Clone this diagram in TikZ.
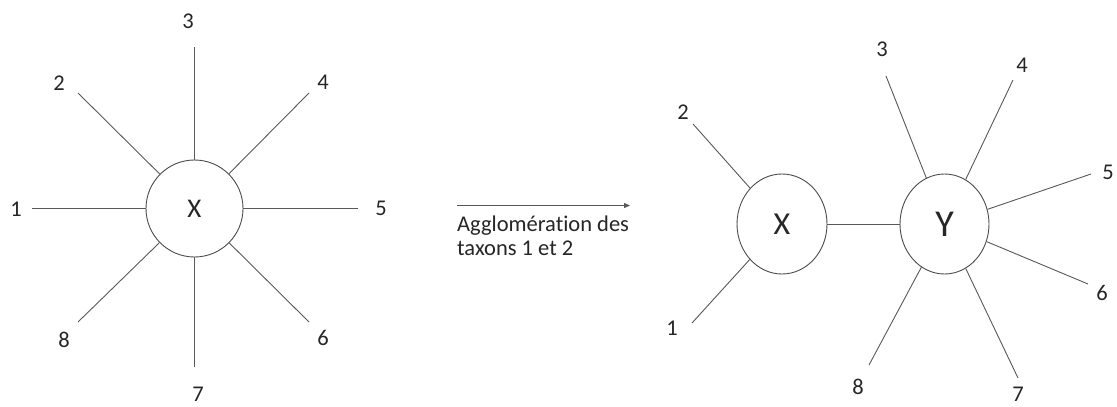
\documentclass[tikz,border=0pt]{standalone}
\usepackage{fontspec}
\setmainfont{Carlito}[Ligatures={NoCommon}]
\usetikzlibrary{shapes.geometric,arrows.meta}
\begin{document}
\begin{tikzpicture}[x=1pt,y=-1pt,
  edge/.style={draw=black!65,line width=0.9pt},
  lab/.style={font=\fontsize{22.5}{24}\selectfont,text=black!85,inner sep=0pt},
  hub/.style={ellipse,draw=black!70,line width=0.9pt,inner sep=0pt,text=black!85}]
\useasboundingbox[fill=white] (0,0) rectangle (1117,407);
% left star
\node[hub,minimum width=97pt,minimum height=97pt,font=\fontsize{27}{31}\selectfont] (LX) at (194.5,208.5) {X};
\coordinate (a1) at (32,208.5);
\coordinate (a2) at (78,93);
\coordinate (a3) at (194.5,47);
\coordinate (a4) at (309,93);
\coordinate (a5) at (358,208.5);
\coordinate (a6) at (309,322);
\coordinate (a7) at (194.5,367);
\coordinate (a8) at (78,322);
\foreach \i in {1,...,8} {\draw[edge] (LX) -- (a\i);}
\node[lab] (l1) at (16,209) {1};
\node[lab] (l2) at (59,83) {2};
\node[lab] (l3) at (188,21) {3};
\node[lab] (l4) at (323,82) {4};
\node[lab] (l5) at (381,208) {5};
\node[lab] (l6) at (323,338) {6};
\node[lab] (l7) at (198,394) {7};
\node[lab] (l8) at (64,340) {8};
% arrow
\coordinate (arS) at (457,205.5);
\coordinate (arE) at (630,205.5);
\draw[edge,-{Triangle[length=6pt,width=5pt]}] (arS) -- (arE);
\node[lab,anchor=base west,align=left] (cap) at (457,255) {Agglomération des\\taxons 1 et 2};
% right tree
\node[hub,minimum width=90pt,minimum height=100pt,font=\fontsize{32}{36}\selectfont] (RX) at (782,224) {X};
\node[hub,minimum width=89pt,minimum height=100pt,font=\fontsize{38}{42}\selectfont] (RY) at (944.5,224) {Y};
\draw[edge] (RX) -- (RY);
\coordinate (b1) at (692,323);
\coordinate (b2) at (693,124);
\draw[edge] (RX) -- (b1);
\draw[edge] (RX) -- (b2);
\coordinate (b3) at (886,76);
\coordinate (b4) at (1013,80);
\coordinate (b5) at (1091,174);
\coordinate (b6) at (1088,284);
\coordinate (b7) at (1018,378);
\coordinate (b8) at (869,365);
\foreach \i in {3,...,8} {\draw[edge] (RY) -- (b\i);}
\node[lab] (m1) at (672,328) {1};
\node[lab] (m2) at (683,112) {2};
\node[lab] (m3) at (882,49) {3};
\node[lab] (m4) at (1022,65) {4};
\node[lab] (m5) at (1108,172) {5};
\node[lab] (m6) at (1102,293) {6};
\node[lab] (m7) at (1018,394) {7};
\node[lab] (m8) at (858,387) {8};
\end{tikzpicture}
\end{document}
